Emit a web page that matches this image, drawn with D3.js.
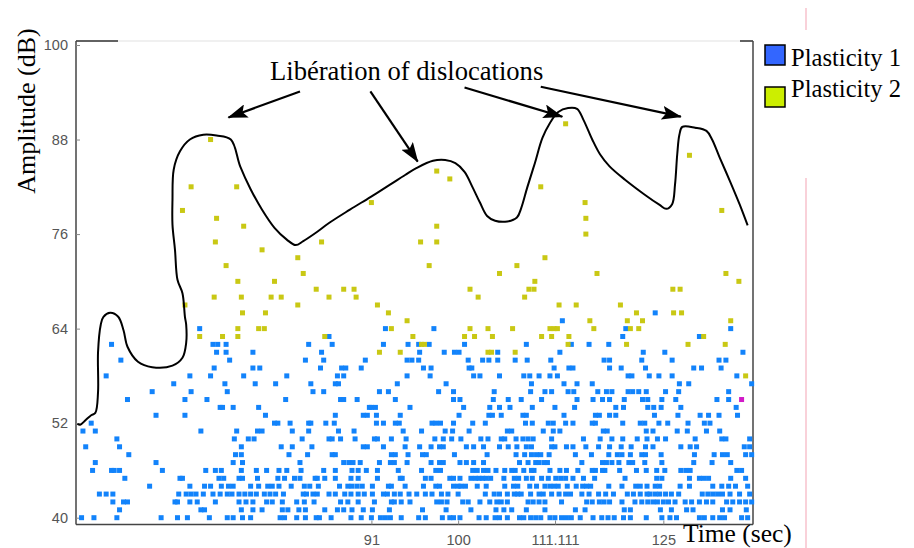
<!DOCTYPE html>
<html>
<head>
<meta charset="utf-8">
<script src="https://cdn.jsdelivr.net/npm/d3@7"></script>
<style>
  body { margin: 0; background: #fff; }
  svg { display: block; }
</style>
</head>
<body>
<svg id="chart" width="914" height="548"></svg>
<script>
"use strict";

// Axis ticks
var yTicks = [40, 52, 64, 76, 88, 100];
var xTicks = [91, 100, 111.111, 125];
var seriesNames = ["Plasticity 1", "Plasticity 2"];

// Plasticity 1 : hit times (sec) for each amplitude level (dB)
var blue40 = [66.4, 67.3, 69.0, 72.4, 73.7, 74.5, 76.3, 77.8, 78.3, 79.1, 79.8, 82.4, 82.8, 83.9, 84.7, 85.7, 86.0, 87.1, 89.0, 90.0, 91.0, 91.9, 92.4, 92.9, 94.0, 95.8, 96.5, 98.3, 99.1, 99.5, 100.2, 102.3, 103.1, 104.1, 104.6, 105.5, 106.9, 107.4, 108.2, 108.8, 109.4, 110.5, 111.1, 111.9, 112.5, 113.1, 114.2, 115.8, 116.9, 117.7, 118.5, 119.7, 120.6, 122.7, 124.8, 125.9, 126.8, 130.0, 130.7, 131.9, 132.9, 133.6, 136.1, 137.0];
var blue41 = [69.2, 75.6, 75.9, 79.0, 80.0, 80.8, 82.6, 83.1, 84.1, 84.7, 86.5, 87.7, 88.3, 89.1, 90.2, 91.1, 92.8, 96.2, 98.7, 101.4, 104.2, 105.1, 106.0, 107.7, 109.9, 113.6, 114.8, 119.8, 120.6, 124.6, 126.1, 128.2, 129.1, 133.3, 134.4, 136.8];
var blue42 = [68.7, 69.5, 69.8, 73.5, 73.7, 74.7, 75.3, 76.8, 78.8, 79.4, 80.0, 81.2, 81.7, 82.6, 83.9, 84.6, 85.5, 88.0, 88.7, 89.7, 91.3, 93.0, 93.3, 94.0, 94.9, 97.7, 98.2, 98.8, 100.5, 101.1, 102.4, 103.5, 104.3, 104.8, 105.5, 107.9, 108.5, 109.2, 109.9, 111.9, 115.0, 115.7, 116.6, 117.2, 117.9, 119.5, 121.2, 122.1, 122.9, 123.6, 124.2, 125.0, 125.7, 126.6, 128.0, 128.9, 130.0, 131.0, 131.9, 133.9, 134.8, 135.8, 136.7, 137.6];
var blue43 = [67.7, 68.2, 68.7, 73.8, 74.4, 74.8, 75.2, 75.8, 76.6, 77.2, 77.8, 78.2, 78.8, 79.3, 79.8, 80.3, 81.0, 81.5, 82.0, 82.7, 84.5, 84.8, 85.4, 85.8, 86.9, 87.5, 88.4, 89.0, 89.7, 90.3, 91.1, 92.2, 92.6, 93.3, 93.9, 94.8, 95.6, 96.5, 97.2, 98.2, 98.9, 100.0, 103.0, 104.0, 104.6, 105.5, 106.3, 106.7, 107.1, 108.2, 109.2, 109.7, 110.7, 111.6, 112.4, 113.0, 114.4, 115.3, 116.5, 117.4, 118.4, 120.2, 121.0, 121.9, 122.8, 123.2, 123.9, 124.5, 125.3, 126.1, 127.1, 130.4, 131.2, 131.9, 132.6, 133.3, 134.4, 135.8, 137.3];
var blue44 = [71.5, 74.7, 75.9, 76.4, 77.3, 77.9, 78.3, 79.8, 80.5, 81.3, 81.7, 82.3, 83.4, 84.6, 85.1, 85.9, 87.9, 88.7, 89.1, 89.6, 90.1, 91.1, 92.7, 93.0, 94.4, 96.3, 97.6, 98.0, 99.5, 100.0, 100.3, 100.8, 102.1, 103.1, 105.2, 106.2, 106.7, 108.1, 108.9, 109.9, 110.5, 111.0, 111.5, 112.6, 113.7, 114.5, 115.0, 115.5, 117.8, 119.5, 121.3, 121.9, 122.8, 123.9, 124.5, 127.3, 128.6, 131.9, 133.2, 134.2, 135.2, 137.0];
var blue45 = [69.6, 73.9, 74.1, 77.1, 77.5, 78.8, 79.1, 80.4, 82.2, 82.8, 83.7, 84.2, 85.6, 85.8, 86.5, 87.5, 89.0, 89.7, 91.6, 93.9, 94.1, 96.5, 97.1, 99.1, 99.5, 100.2, 101.4, 101.9, 102.3, 102.7, 103.1, 103.6, 105.1, 106.3, 106.8, 107.7, 108.4, 109.5, 110.3, 111.2, 111.8, 112.4, 113.3, 114.6, 116.0, 119.9, 124.1, 124.8, 128.6, 130.0, 130.6, 131.3, 134.5, 136.7];
var blue46 = [67.2, 68.6, 68.8, 69.2, 72.5, 76.0, 76.8, 77.3, 79.0, 80.3, 81.2, 82.3, 83.0, 84.3, 86.4, 87.5, 89.1, 89.7, 90.5, 91.6, 93.7, 96.1, 97.6, 98.1, 101.6, 102.1, 102.8, 103.3, 104.2, 105.2, 106.0, 106.4, 107.4, 108.3, 108.6, 110.5, 111.7, 112.5, 113.9, 115.7, 116.1, 117.0, 117.3, 119.2, 121.4, 122.7, 124.1, 125.2, 127.4, 128.1, 128.7, 135.4, 136.1];
var blue47 = [67.4, 72.0, 78.3, 79.1, 84.2, 88.3, 88.8, 89.2, 89.9, 91.8, 92.9, 93.3, 94.6, 97.1, 98.0, 98.4, 100.2, 100.9, 101.7, 102.8, 106.9, 107.9, 108.8, 109.2, 109.8, 110.2, 114.4, 117.0, 117.5, 118.2, 119.1, 120.4, 120.9, 122.5, 124.8, 129.2, 131.8, 134.5];
var blue48 = [69.9, 78.5, 79.0, 83.2, 84.9, 87.2, 87.5, 93.0, 93.4, 94.7, 96.2, 96.6, 99.6, 103.2, 106.5, 107.5, 108.3, 108.9, 109.4, 110.4, 113.6, 115.6, 117.8, 118.9, 119.5, 120.6, 122.1, 122.6, 124.7, 129.3, 132.1, 133.3, 134.0, 136.7, 137.6];
var blue49 = [66.7, 69.2, 79.0, 82.5, 83.5, 85.3, 90.2, 90.6, 92.2, 94.4, 95.9, 97.1, 98.0, 98.4, 100.9, 101.7, 102.8, 104.6, 105.6, 106.6, 107.7, 108.3, 110.7, 111.1, 112.5, 113.3, 114.9, 116.5, 117.9, 119.4, 120.7, 122.6, 123.6, 127.4, 128.7, 129.6, 136.5, 137.3];
var blue50 = [69.0, 78.4, 79.6, 80.1, 84.4, 86.9, 87.2, 88.0, 89.4, 91.3, 91.6, 93.0, 94.5, 97.5, 98.4, 99.3, 100.3, 102.5, 103.3, 104.8, 105.2, 106.5, 107.3, 107.9, 108.5, 110.7, 114.6, 116.7, 118.2, 119.6, 121.5, 122.8, 124.2, 125.3, 129.4, 133.2, 133.8, 137.3];
var blue51 = [66.5, 67.4, 75.6, 78.6, 80.4, 80.8, 83.5, 85.0, 87.8, 89.3, 94.2, 96.1, 98.6, 99.4, 101.2, 105.5, 106.0, 109.7, 110.9, 111.7, 117.1, 117.6, 122.7, 123.6, 126.9, 128.3, 131.0, 132.9];
var blue52 = [67.1, 81.9, 82.2, 83.3, 85.0, 85.2, 86.6, 87.4, 91.5, 92.2, 93.4, 93.8, 97.2, 97.6, 98.1, 99.5, 101.6, 103.0, 107.6, 108.4, 110.3, 110.9, 112.4, 113.3, 115.7, 116.1, 119.6, 121.9, 122.5, 124.4, 125.6, 128.4, 130.7, 131.5];
var blue53 = [72.0, 74.3, 81.1, 87.5, 90.2, 90.6, 91.5, 93.9, 100.1, 103.4, 103.8, 104.8, 107.3, 107.7, 112.2, 116.1, 116.6, 117.9, 118.7, 123.8, 127.0, 130.1, 131.3, 132.8, 135.5];
var blue54 = [77.2, 77.4, 78.3, 80.5, 90.8, 91.0, 91.4, 94.9, 100.6, 103.5, 104.6, 105.8, 108.4, 111.1, 113.5, 118.7, 119.7, 122.9, 123.7, 124.7, 127.4, 135.3];
var blue55 = [69.8, 74.3, 76.1, 82.9, 88.0, 88.3, 89.6, 93.4, 99.5, 100.2, 103.9, 105.6, 107.1, 109.5, 113.8, 115.8, 117.0, 117.9, 119.8, 122.2, 122.9, 124.8, 126.7, 132.5, 134.2];
var blue56 = [71.7, 74.8, 77.8, 85.4, 86.4, 91.8, 92.7, 97.9, 99.5, 104.0, 108.2, 109.9, 110.7, 112.7, 113.4, 116.4, 117.5, 118.2, 120.3, 120.9, 121.7, 122.7, 125.3, 127.1, 134.2];
var blue57 = [73.4, 77.6, 80.2, 82.0, 85.2, 87.5, 87.8, 93.6, 98.7, 108.3, 112.2, 113.8, 115.7, 127.2, 128.5, 137.6];
var blue58 = [68.2, 74.7, 76.4, 79.2, 83.0, 87.7, 88.3, 94.6, 97.0, 101.7, 102.4, 104.6, 107.4, 108.1, 109.2, 110.5, 111.4, 120.3, 120.8, 123.1, 124.4, 126.2, 135.4];
var blue59 = [76.7, 80.0, 80.6, 86.1, 88.1, 88.5, 90.0, 96.3, 97.1, 101.2, 101.5, 111.0, 112.8, 113.3, 117.9, 119.4, 122.6, 129.2, 130.3, 133.1];
var blue60 = [69.3, 78.0, 84.7, 86.4, 90.4, 94.6, 95.1, 95.8, 101.1, 102.7, 103.4, 104.4, 106.4, 107.8, 110.6, 117.2, 117.9, 122.1, 126.2, 132.8, 133.8];
var blue61 = [76.9, 77.7, 80.0, 86.2, 95.9, 98.5, 99.6, 100.1, 104.4, 111.7, 122.3, 125.2, 136.3];
var blue62 = [68.6, 76.6, 77.0, 77.7, 85.0, 87.2, 92.2, 94.7, 95.8, 96.9, 100.7, 107.7, 113.1, 115.3, 117.8];
var blue63 = [86.9, 119.6, 130.0];
var blue64 = [75.5, 92.4, 97.4, 120.0, 134.5];
var blue65 = [112.0];
var blue66 = [123.9];

var blueLevels = [40, 41, 42, 43, 44, 45, 46, 47, 48, 49, 50, 51, 52, 53, 54, 55, 56, 57, 58, 59, 60, 61, 62, 63, 64, 65, 66];
var blueRows = [blue40, blue41, blue42, blue43, blue44, blue45, blue46, blue47, blue48, blue49, blue50, blue51, blue52, blue53, blue54, blue55, blue56, blue57, blue58, blue59, blue60, blue61, blue62, blue63, blue64, blue65, blue66];

// Plasticity 2 : [time, amplitude]
var yellowPoints = [
  [76.4, 88], [112.4, 90], [128.6, 86], [97.7, 84], [99.1, 83],
  [74.8, 82], [78.6, 82], [109.4, 82], [91.0, 80], [114.8, 80],
  [74.1, 79], [133.2, 79], [76.9, 78], [114.9, 78], [79.2, 77], [97.7, 77],
  [114.9, 76], [76.8, 75], [86.2, 75], [96.0, 75], [97.7, 75], [80.8, 74],
  [84.0, 73], [109.9, 73], [77.7, 72], [96.9, 72], [106.6, 72],
  [84.5, 71], [104.6, 71], [116.3, 71], [133.8, 71],
  [78.7, 70], [81.9, 70], [108.7, 70], [135.7, 70],
  [85.7, 69], [88.3, 69], [89.3, 69], [101.3, 69], [108.0, 69], [108.6, 69], [126.3, 69], [127.3, 69],
  [76.7, 68], [79.0, 68], [81.6, 68], [82.5, 68], [86.9, 68], [89.5, 68], [102.2, 68], [107.5, 68],
  [74.3, 67], [84.0, 67], [91.6, 67], [111.6, 67], [113.7, 67], [119.3, 67],
  [79.1, 66], [81.1, 66], [92.7, 66], [121.4, 66], [126.4, 66], [127.5, 66],
  [94.6, 65], [115.4, 65], [120.2, 65], [122.2, 65], [134.5, 65],
  [78.7, 64], [80.5, 64], [81.0, 64], [93.0, 64], [101.3, 64], [103.3, 64], [106.1, 64],
  [110.5, 64], [111.0, 64], [111.4, 64], [115.9, 64], [120.6, 64], [121.7, 64],
  [75.5, 63], [77.4, 63], [78.7, 63], [86.5, 63], [95.2, 63], [100.7, 63], [101.8, 63],
  [103.8, 63], [109.5, 63], [110.7, 63], [112.8, 63], [130.6, 63],
  [96.1, 62], [96.4, 62], [112.7, 62], [120.1, 62], [128.4, 62], [133.7, 62],
  [91.8, 61], [93.9, 61], [103.3, 61], [103.7, 61], [106.4, 61],
  [136.7, 58]
];

// odd hit
var otherPoints = [[136.1, 55]];

// hand drawn envelope : [time, amplitude]
var envelope = [
  [66.1, 51.9], [66.3, 51.8], [66.7, 52.4], [67.1, 53.0], [67.4, 53.3], [67.6, 55.9],
  [67.6, 61.0], [67.8, 64.5], [68.0, 65.5], [68.5, 66.0], [69.1, 65.5], [69.5, 63.8],
  [69.8, 61.7], [70.6, 59.8], [71.7, 59.1], [73.3, 59.3], [74.1, 60.3], [74.4, 62.2],
  [74.4, 64.5], [74.3, 65.5], [74.1, 68.5], [73.7, 70.2], [73.5, 74.0], [73.3, 77.2],
  [73.3, 80.3], [73.4, 84.2], [73.9, 86.5], [74.7, 88.0], [75.8, 88.6], [76.9, 88.5],
  [78.1, 88.0], [78.9, 84.6], [79.8, 81.7], [80.8, 79.1], [81.9, 76.8], [83.0, 75.3],
  [83.8, 74.6], [84.5, 75.1], [85.6, 76.1], [86.9, 77.4], [88.9, 79.1], [90.9, 80.7],
  [92.9, 82.3], [94.4, 83.5], [95.6, 84.4], [97.3, 85.3], [98.6, 85.4], [99.7, 85.0],
  [100.7, 83.9], [101.6, 81.9], [102.4, 80.0], [103.2, 78.3], [104.1, 77.7], [105.5, 77.6],
  [106.6, 78.1], [107.1, 79.3], [107.8, 81.9], [108.7, 85.0], [109.6, 88.2], [110.5, 90.1],
  [111.5, 91.5], [112.7, 92.0], [113.8, 91.9], [114.6, 90.5], [115.7, 88.0], [116.7, 86.1],
  [117.9, 84.6], [119.9, 82.9], [122.5, 81.0], [124.5, 79.7], [125.4, 79.2], [126.2, 79.8],
  [126.6, 82.3], [126.9, 86.1], [127.2, 88.6], [127.6, 89.6], [129.4, 89.5], [131.0, 89.1],
  [131.8, 88.0], [132.9, 85.7], [134.4, 82.7], [135.8, 79.8], [137.0, 77.1]
];

// annotation arrows, from the label to the peaks
var arrowFrom = [[84.2, 94.1], [90.9, 94.1], [100.7, 94.6], [109.4, 94.7]];
var arrowTo = [[77.9, 90.8], [95.7, 85.2], [112.0, 90.9], [127.4, 90.9]];

window.onload = function() {

  var svg = d3.select("#chart");
  var left = 76, right = 753, top = 41, bottom = 524.5;

  var x = d3.scaleLog().domain([66, 137.8]).range([left, right]);
  var y = d3.scaleLinear().domain([40, 100]).range([517.7, 45]);

  svg.append("rect").attr("width", 914).attr("height", 548).attr("fill", "#fff");

  // pink guide at the right
  svg.append("line").attr("x1", 806).attr("x2", 806).attr("y1", 8).attr("y2", 30)
     .attr("stroke", "#f5b3c0").attr("stroke-width", 1.2);
  svg.append("line").attr("x1", 806).attr("x2", 806).attr("y1", 178).attr("y2", 548)
     .attr("stroke", "#f5b3c0").attr("stroke-width", 1.2);

  // frame
  svg.append("line").attr("x1", left).attr("x2", right).attr("y1", top).attr("y2", top)
     .attr("stroke", "#e2e2e2").attr("stroke-width", 1.2);
  svg.append("line").attr("x1", left).attr("x2", 118).attr("y1", top).attr("y2", top)
     .attr("stroke", "#333").attr("stroke-width", 1.5);
  svg.append("line").attr("x1", 740).attr("x2", right).attr("y1", top).attr("y2", top)
     .attr("stroke", "#333").attr("stroke-width", 1.5);
  svg.append("line").attr("x1", right).attr("x2", right).attr("y1", top).attr("y2", bottom)
     .attr("stroke", "#444").attr("stroke-width", 1.5);

  // axes
  var yAxis = svg.append("g")
                 .attr("transform", "translate(" + left + ",0)")
                 .call(d3.axisLeft(y).tickValues(yTicks).tickSize(-4).tickPadding(8));
  var xAxis = svg.append("g")
                 .attr("transform", "translate(0," + bottom + ")")
                 .call(d3.axisBottom(x).tickValues(xTicks).tickFormat(function(d) { return String(d); })
                         .tickSize(-4).tickPadding(10));
  [yAxis, xAxis].forEach(function(a) {
    a.select(".domain").attr("stroke", "#444").attr("stroke-width", 1.5);
    a.selectAll(".tick line").attr("stroke", "#888");
    a.selectAll(".tick text")
     .attr("fill", "#555")
     .style("font-family", "'Liberation Sans', Arial, sans-serif")
     .style("font-size", "14.5px");
  });
  yAxis.select(".domain").attr("d", "M0," + top + "V" + bottom);
  xAxis.select(".domain").attr("d", "M" + left + ",0H" + right);

  // Plasticity 1 dots
  var bluePts = [];
  for (let i = 0; i < blueRows.length; i++) {
    blueRows[i].forEach(function(t) { bluePts.push([t, blueLevels[i]]); });
  }
  var s = 5;
  svg.append("g").selectAll("rect").data(bluePts).enter().append("rect")
     .attr("x", function(d) { return x(d[0]) - s / 2; })
     .attr("y", function(d) { return y(d[1]) - s / 2; })
     .attr("width", s).attr("height", s)
     .attr("fill", "#1283fb");

  // Plasticity 2 dots
  svg.append("g").selectAll("rect").data(yellowPoints).enter().append("rect")
     .attr("x", function(d) { return x(d[0]) - s / 2; })
     .attr("y", function(d) { return y(d[1]) - s / 2; })
     .attr("width", s).attr("height", s)
     .attr("fill", "#c9c814");

  svg.append("g").selectAll("rect").data(otherPoints).enter().append("rect")
     .attr("x", function(d) { return x(d[0]) - s / 2; })
     .attr("y", function(d) { return y(d[1]) - s / 2; })
     .attr("width", s).attr("height", s)
     .attr("fill", "#d21ac8");

  // envelope
  var line = d3.line()
               .x(function(d) { return x(d[0]); })
               .y(function(d) { return y(d[1]); })
               .curve(d3.curveCatmullRom.alpha(0.5));
  svg.append("path").datum(envelope)
     .attr("d", line)
     .attr("fill", "none")
     .attr("stroke", "#000")
     .attr("stroke-width", 2);

  // arrows
  svg.append("defs").append("marker")
     .attr("id", "head")
     .attr("markerUnits", "userSpaceOnUse")
     .attr("markerWidth", 20).attr("markerHeight", 14)
     .attr("refX", 19).attr("refY", 7)
     .attr("orient", "auto")
     .append("path")
     .attr("d", "M0,0L20,7L0,14L4,7Z")
     .attr("fill", "#000");

  for (let i = 0; i < arrowFrom.length; i++) {
    svg.append("line")
       .attr("x1", x(arrowFrom[i][0])).attr("y1", y(arrowFrom[i][1]))
       .attr("x2", x(arrowTo[i][0])).attr("y2", y(arrowTo[i][1]))
       .attr("stroke", "#000").attr("stroke-width", 2.2)
       .attr("marker-end", "url(#head)");
  }

  // texts
  var serif = "'Liberation Serif', 'Times New Roman', serif";
  svg.append("text").attr("x", 270).attr("y", 80)
     .style("font-family", serif).style("font-size", "26.6px")
     .text("Libération of dislocations");
  svg.append("text").attr("transform", "translate(35,111) rotate(-90)")
     .attr("text-anchor", "middle")
     .style("font-family", serif).style("font-size", "26px")
     .text("Amplitude (dB)");
  svg.append("text").attr("x", 683).attr("y", 542)
     .style("font-family", serif).style("font-size", "25.5px")
     .text("Time (sec)");

  // legend
  var legendColours = ["#3366ff", "#ccee00"];
  var legendY = [45, 87];
  var textY = [66, 97];
  for (let i = 0; i < seriesNames.length; i++) {
    svg.append("rect").attr("x", 765).attr("y", legendY[i])
       .attr("width", 20).attr("height", 20)
       .attr("fill", legendColours[i]).attr("stroke", "#000").attr("stroke-width", 1.5);
    svg.append("text").attr("x", 791).attr("y", textY[i])
       .style("font-family", serif).style("font-size", "24.6px")
       .text(seriesNames[i]);
  }
};
</script>
</body>
</html>
